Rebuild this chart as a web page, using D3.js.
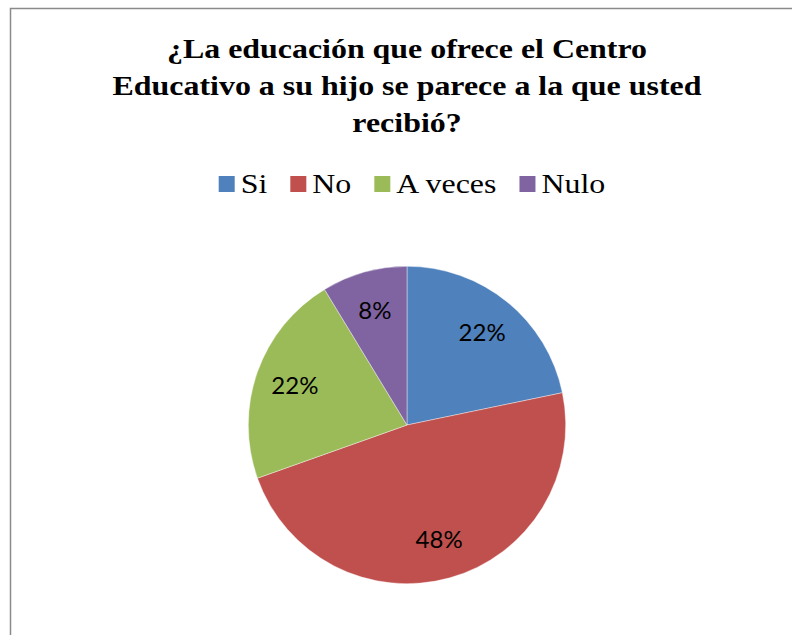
<!DOCTYPE html>
<html>
<head>
<meta charset="utf-8">
<script src="https://cdn.jsdelivr.net/npm/d3@7"></script>
<style>
  html, body { margin: 0; padding: 0; background: #fff; }
  svg { display: block; }
</style>
</head>
<body>
<svg id="chart" width="792" height="635"></svg>
<script>
const titleLines = ["¿La educación que ofrece el Centro", "Educativo a su hijo se parece a la que usted", "recibió?"];
const categories = ["Si", "No", "A veces", "Nulo"];
const values = [10, 22, 10, 4];
const pctLabels = ["22%", "48%", "22%", "8%"];
const colors = ["#4F81BD", "#C0504D", "#9BBB59", "#8064A2"];

const W = 792, H = 635;
const SX = 1.14; // horizontal stretch of the text in the reference
const svg = d3.select("#chart");

// chart area border (extends beyond the photographed area at right/bottom)
svg.append("rect")
  .attr("x", 10.5).attr("y", 8.5)
  .attr("width", 800).attr("height", 700)
  .attr("fill", "#fff")
  .attr("stroke", "#8a8a8a").attr("stroke-width", 1.5);

// title
const cx = 407;
const title = svg.append("text")
  .attr("transform", `translate(${cx},0) scale(${SX},1)`)
  .attr("text-anchor", "middle")
  .attr("font-family", "'Liberation Serif', 'Times New Roman', serif")
  .attr("font-weight", "bold")
  .attr("font-size", 28)
  .attr("fill", "#000");
titleLines.forEach((t, i) => {
  title.append("tspan").attr("x", 0).attr("y", 58 + i * 37).text(t);
});

// legend
const legend = svg.append("g");
const items = legend.selectAll("g").data(categories).join("g");
items.append("rect")
  .attr("width", 16).attr("height", 16)
  .attr("y", 176)
  .attr("fill", (d, i) => colors[i]);
items.append("text")
  .attr("transform", `translate(22,193) scale(${SX},1)`)
  .attr("font-family", "'Liberation Serif', 'Times New Roman', serif")
  .attr("font-size", 28)
  .attr("fill", "#000")
  .text(d => d);
const widths = [];
items.each(function() {
  widths.push(d3.select(this).select("text").node().getComputedTextLength() * SX);
});
const totalW = widths.reduce((a, w) => a + 22 + w, 0) + 23 * (categories.length - 1);
let xpos = 412 - totalW / 2;
items.attr("transform", (d, i) => {
  const x = xpos;
  xpos += 22 + widths[i] + 23;
  return `translate(${x},0)`;
});

// pie
const R = 158.7;
const pcx = 407, pcy = 425;
const pie = d3.pie().sort(null).value(d => d);
const arcs = pie(values);
const arc = d3.arc().innerRadius(0).outerRadius(R);
const labelArc = d3.arc().innerRadius(R * 0.75).outerRadius(R * 0.75);
const g = svg.append("g").attr("transform", `translate(${pcx},${pcy})`);
g.selectAll("path").data(arcs).join("path")
  .attr("d", arc)
  .attr("fill", (d, i) => colors[i])
  .attr("stroke", "#ffffff")
  .attr("stroke-width", 0.4);
g.selectAll("text.lbl").data(arcs).join("text")
  .attr("class", "lbl")
  .attr("transform", d => `translate(${labelArc.centroid(d)})`)
  .attr("text-anchor", "middle")
  .attr("dy", "0.36em")
  .attr("font-family", "Lato, 'Open Sans', sans-serif")
  .attr("font-size", 24)
  .attr("fill", "#000")
  .text((d, i) => pctLabels[i]);
</script>
</body>
</html>
